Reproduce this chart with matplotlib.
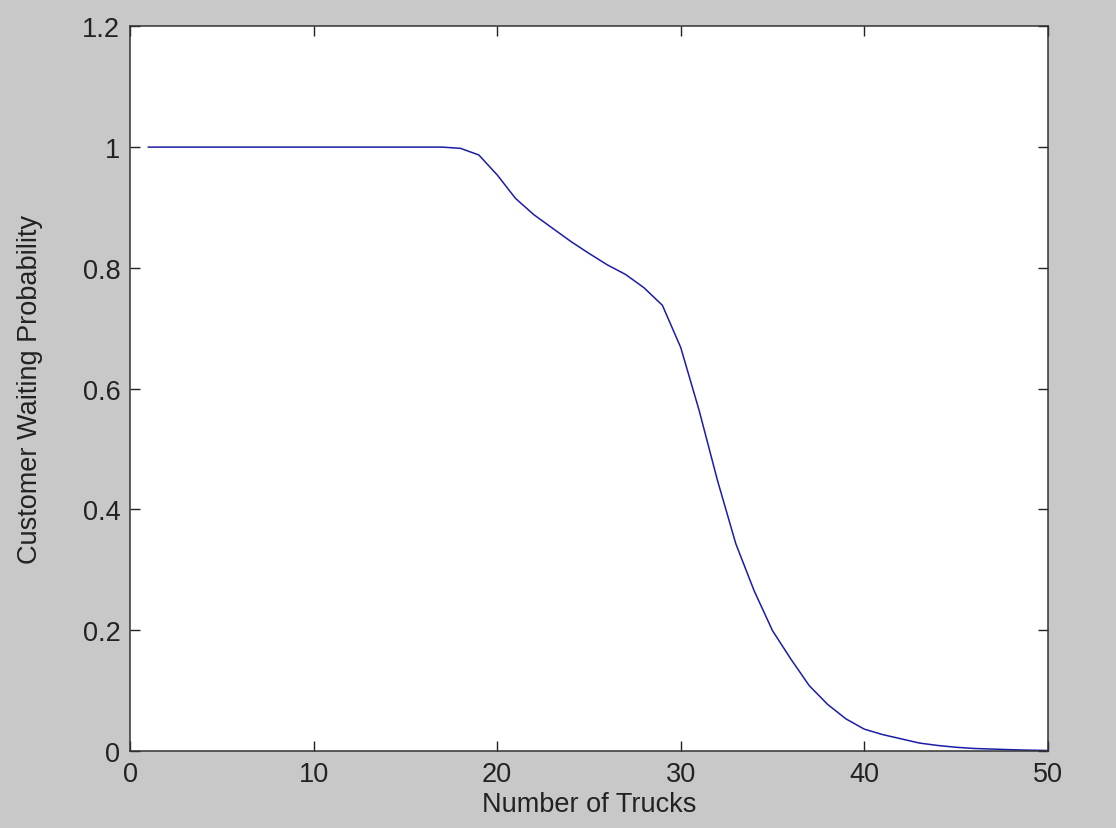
"""
Customer waiting probability vs number of trucks (MATLAB-style figure)
"""
import numpy as np
import matplotlib
matplotlib.use("Agg")
import matplotlib.pyplot as plt

# broj kamiona 1..50
trucks = list(range(1, 51))
# procijenjene vrijednosti sa slike
wait_prob = [
    1.0, 1.0, 1.0, 1.0, 1.0, 1.0, 1.0, 1.0, 1.0, 1.0,
    1.0, 1.0, 1.0, 1.0, 1.0, 1.0, 1.0, 0.998, 0.987, 0.954,
    0.915, 0.888, 0.866, 0.844, 0.824, 0.805, 0.789, 0.767, 0.738, 0.668,
    0.564, 0.448, 0.343, 0.265, 0.199, 0.152, 0.108, 0.077, 0.053, 0.036,
    0.027, 0.020, 0.013, 0.009, 0.006, 0.004, 0.003, 0.002, 0.0012, 0.0007,
]
x_ticks = [0, 10, 20, 30, 40, 50]
y_ticks = [0, 0.2, 0.4, 0.6, 0.8, 1.0, 1.2]
y_tick_labels = ["0", "0.2", "0.4", "0.6", "0.8", "1", "1.2"]

plt.rcParams["font.family"] = ["Liberation Sans", "DejaVu Sans"]

fig = plt.figure(figsize=(11.16, 8.29), dpi=100, facecolor="#c8c8c8")
ax = fig.add_axes([0.1165, 0.093, 0.8225, 0.874])
ax.plot(trucks, wait_prob, color="#1c1ca8", linewidth=1.1)

ax.set_xlim(0, 50)
ax.set_ylim(0, 1.2)
ax.set_xticks(x_ticks)
ax.set_yticks(y_ticks)
ax.set_yticklabels(y_tick_labels)
ax.tick_params(direction="in", top=True, right=True, length=7, width=1,
               labelsize=19.5, colors="#222222", pad=7)
for s in ax.spines.values():
    s.set_linewidth(1.1)
    s.set_color("#333333")

ax.set_xlabel("Number of Trucks", fontsize=19.5, color="#222222", labelpad=3)
ax.set_ylabel("Customer Waiting Probability", fontsize=19.5, color="#222222", labelpad=28)

fig.savefig("out.png", dpi=100, facecolor=fig.get_facecolor())
